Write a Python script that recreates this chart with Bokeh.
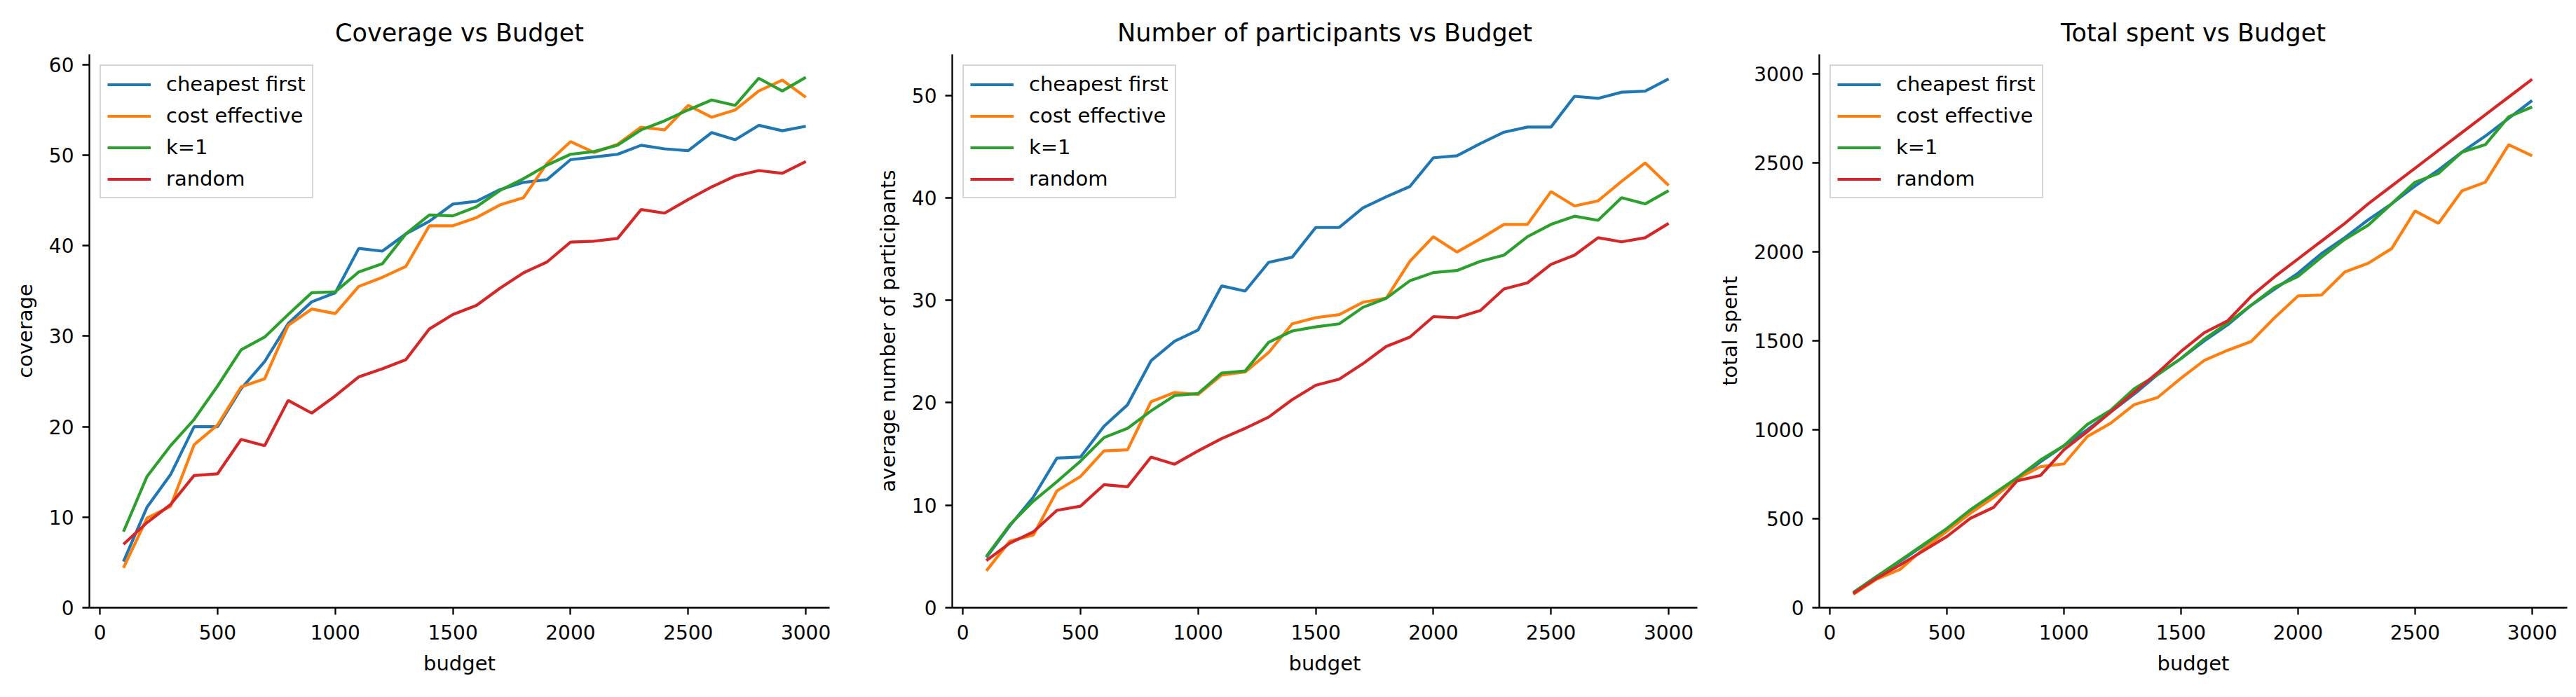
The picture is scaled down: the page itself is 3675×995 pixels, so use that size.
from bokeh.plotting import figure
from bokeh.layouts import row
from bokeh.models import Range1d, FixedTicker, Legend, LegendItem
from bokeh.embed import file_html
from bokeh.resources import INLINE

# ---------------- data ----------------
budget = [100, 200, 300, 400, 500, 600, 700, 800, 900, 1000,
          1100, 1200, 1300, 1400, 1500, 1600, 1700, 1800, 1900, 2000,
          2100, 2200, 2300, 2400, 2500, 2600, 2700, 2800, 2900, 3000]

series_names = ["cheapest first", "cost effective", "k=1", "random"]
series_colors = ["#1f77b4", "#ff7f0e", "#2ca02c", "#d62728"]

coverage_cheapest = [5.1, 11.1, 14.7, 20.0, 20.0, 24.2, 27.2, 31.4, 33.8, 34.8,
                     39.7, 39.4, 41.3, 42.7, 44.6, 44.9, 46.2, 47.0, 47.3, 49.5,
                     49.8, 50.1, 51.1, 50.7, 50.5, 52.5, 51.7, 53.3, 52.7, 53.2]
coverage_costeff = [4.4, 9.9, 11.2, 18.0, 20.2, 24.4, 25.3, 31.2, 33.0, 32.5,
                    35.5, 36.5, 37.7, 42.2, 42.2, 43.1, 44.5, 45.3, 49.1, 51.5,
                    50.3, 51.2, 53.1, 52.8, 55.5, 54.2, 55.0, 57.1, 58.3, 56.4]
coverage_k1 = [8.4, 14.5, 17.9, 20.8, 24.5, 28.5, 29.9, 32.4, 34.8, 34.9,
               37.1, 38.0, 41.3, 43.4, 43.3, 44.3, 46.1, 47.4, 48.9, 50.1,
               50.4, 51.1, 52.8, 53.8, 55.0, 56.1, 55.5, 58.5, 57.1, 58.6]
coverage_random = [7.0, 9.4, 11.4, 14.6, 14.8, 18.6, 17.9, 22.9, 21.5, 23.4,
                   25.5, 26.4, 27.4, 30.8, 32.4, 33.4, 35.3, 37.0, 38.2, 40.4,
                   40.5, 40.8, 44.0, 43.6, 45.1, 46.5, 47.7, 48.3, 48.0, 49.3]

participants_cheapest = [4.9, 8.0, 10.8, 14.6, 14.7, 17.7, 19.8, 24.1, 26.0, 27.1,
                         31.4, 30.9, 33.7, 34.2, 37.1, 37.1, 39.0, 40.1, 41.1, 43.9,
                         44.1, 45.3, 46.4, 46.9, 46.9, 49.9, 49.7, 50.3, 50.4, 51.6]
participants_costeff = [3.6, 6.5, 7.1, 11.4, 12.8, 15.3, 15.4, 20.1, 21.0, 20.8,
                        22.7, 23.0, 24.9, 27.7, 28.3, 28.6, 29.8, 30.2, 33.8, 36.2,
                        34.7, 36.0, 37.4, 37.4, 40.6, 39.2, 39.7, 41.6, 43.4, 41.2]
participants_k1 = [5.0, 8.1, 10.4, 12.3, 14.3, 16.6, 17.5, 19.2, 20.7, 20.9,
                   22.9, 23.1, 25.9, 27.0, 27.4, 27.7, 29.3, 30.2, 31.9, 32.7,
                   32.9, 33.8, 34.4, 36.2, 37.4, 38.2, 37.8, 40.0, 39.4, 40.7]
participants_random = [4.6, 6.3, 7.4, 9.5, 9.9, 12.0, 11.8, 14.7, 14.0, 15.3,
                       16.5, 17.5, 18.6, 20.3, 21.7, 22.3, 23.8, 25.5, 26.4, 28.4,
                       28.3, 29.0, 31.1, 31.7, 33.5, 34.4, 36.1, 35.7, 36.1, 37.5]

spent_cheapest = [85, 175, 260, 350, 440, 540, 630, 720, 820, 910,
                  1000, 1100, 1200, 1310, 1400, 1500, 1590, 1700, 1790, 1880,
                  1990, 2080, 2180, 2270, 2370, 2460, 2560, 2650, 2750, 2850]
spent_costeff = [75, 160, 215, 330, 430, 530, 620, 725, 793, 808,
                 962, 1037, 1141, 1181, 1290, 1390, 1447, 1496, 1630, 1752,
                 1757, 1887, 1936, 2018, 2230, 2160, 2342, 2391, 2602, 2540]
spent_k1 = [85, 175, 265, 355, 445, 550, 640, 730, 830, 910,
            1030, 1110, 1230, 1310, 1400, 1510, 1600, 1700, 1800, 1862,
            1970, 2070, 2150, 2270, 2391, 2441, 2560, 2602, 2759, 2814]
spent_random = [80, 165, 240, 320, 400, 502, 564, 713, 743, 887,
                990, 1100, 1210, 1320, 1440, 1546, 1613, 1750, 1860, 1960,
                2060, 2160, 2270, 2370, 2470, 2570, 2670, 2770, 2870, 2970]

x_ticks = [0, 500, 1000, 1500, 2000, 2500, 3000]
coverage_ticks = [0, 10, 20, 30, 40, 50, 60]
participants_ticks = [0, 10, 20, 30, 40, 50]
spent_ticks = [0, 500, 1000, 1500, 2000, 2500, 3000]

FONT = "DejaVu Sans"


def make_panel(title, ylabel, ys, yticks, xr, yr, width, height,
               bl, br, bt, bb):
    p = figure(width=width, height=height, output_backend="svg",
               toolbar_location=None, x_range=Range1d(*xr), y_range=Range1d(*yr),
               min_border_left=bl, min_border_right=br,
               min_border_top=bt, min_border_bottom=bb)
    p.outline_line_color = None
    p.background_fill_color = "white"
    p.border_fill_color = "white"
    p.xgrid.visible = False
    p.ygrid.visible = False

    p.title.text = title
    p.title.align = "center"
    p.title.text_font = FONT
    p.title.text_font_size = "35px"
    p.title.text_font_style = "normal"
    p.title.text_color = "black"
    p.title.standoff = 22

    p.xaxis.axis_label = "budget"
    p.yaxis.axis_label = ylabel
    p.xaxis.ticker = FixedTicker(ticks=x_ticks)
    p.yaxis.ticker = FixedTicker(ticks=yticks)
    for ax in (p.xaxis, p.yaxis):
        ax.axis_label_text_font = FONT
        ax.axis_label_text_font_size = "29px"
        ax.axis_label_text_font_style = "normal"
        ax.axis_label_text_color = "black"
        ax.major_label_text_font = FONT
        ax.major_label_text_font_size = "28px"
        ax.major_label_text_color = "black"
        ax.axis_line_width = 2.3
        ax.axis_line_color = "black"
        ax.major_tick_line_width = 2.3
        ax.major_tick_line_color = "black"
        ax.major_tick_in = 0
        ax.major_tick_out = 10
        ax.minor_tick_line_color = None
    p.xaxis.major_label_standoff = 14
    p.yaxis.major_label_standoff = 12
    p.xaxis.axis_label_standoff = 14
    p.yaxis.axis_label_standoff = 14

    items = []
    for name, color, y in zip(series_names, series_colors, ys):
        r = p.line(budget, y, line_color=color, line_width=4.2)
        items.append(LegendItem(label=name, renderers=[r]))

    legend = Legend(items=items, location="top_left")
    legend.margin = 15
    legend.padding = 9
    legend.spacing = 11
    legend.glyph_width = 62
    legend.glyph_height = 29
    legend.label_height = 29
    legend.label_standoff = 22
    legend.label_text_font = FONT
    legend.label_text_font_size = "29px"
    legend.label_text_color = "black"
    legend.border_line_color = "#cccccc"
    legend.border_line_width = 2
    legend.border_line_alpha = 0.8
    legend.background_fill_color = "white"
    legend.background_fill_alpha = 0.8
    p.add_layout(legend)
    return p


H = 990
p1 = make_panel("Coverage vs Budget", "coverage",
                [coverage_cheapest, coverage_costeff, coverage_k1, coverage_random],
                coverage_ticks, (-45, 3101), (0, 61.15),
                1240, H, 127, 57, 77, H - 77 - 796)
p2 = make_panel("Number of participants vs Budget", "average number of participants",
                [participants_cheapest, participants_costeff, participants_k1, participants_random],
                participants_ticks, (-45, 3122), (0, 54.0),
                1200, H, 118, 19, 69, H - 69 - 798)
p3 = make_panel("Total spent vs Budget", "total spent",
                [spent_cheapest, spent_costeff, spent_k1, spent_random],
                spent_ticks, (-45, 3150), (0, 3110),
                1227, H, 155, 5, 74, H - 74 - 794)

layout = row(p1, p2, p3)
open("out.html", "w").write(file_html(layout, INLINE))
